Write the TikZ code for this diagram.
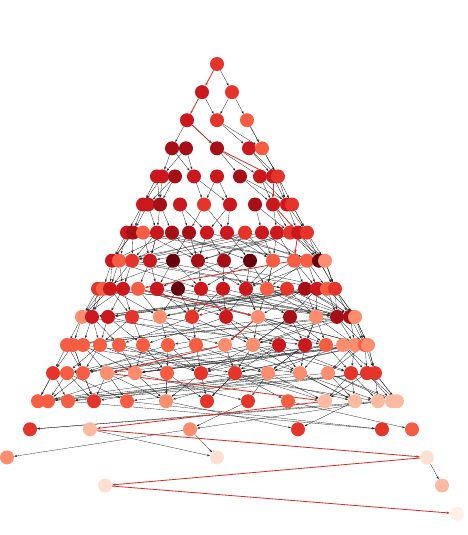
\documentclass[tikz,border=0pt]{standalone}
\usetikzlibrary{arrows.meta}
\definecolor{c1}{HTML}{67000D}
\definecolor{c2}{HTML}{A50F15}
\definecolor{c3}{HTML}{CB181D}
\definecolor{c4}{HTML}{E5352B}
\definecolor{c5}{HTML}{F65D43}
\definecolor{c6}{HTML}{FC8D6E}
\definecolor{c7}{HTML}{FCBBA1}
\definecolor{c8}{HTML}{FEE0D2}
\definecolor{c9}{HTML}{FFF0E8}
\definecolor{pathred}{HTML}{DC2A22}
\pgfdeclarelayer{edgelayer}
\pgfsetlayers{edgelayer,main}
\tikzset{
  dot/.style={circle,minimum size=14pt,inner sep=0pt,draw=none},
  edge/.style={draw=black!85,line width=0.3pt,-{Stealth[length=3pt,width=2pt]}},
  redge/.style={draw=pathred,line width=0.8pt,-{Stealth[length=3.5pt,width=2.5pt]}}
}
\def\rows{%
0/{217/c4},%
1/{202/c3,232/c4},%
2/{187/c3,217/c4,247/c5},%
3/{172/c2,186/c2,217/c2,249/c3,262/c5},%
4/{157/c3,162/c3,175/c2,194/c3,217/c3,240/c2,260/c3,273/c3,278/c4},%
5/{143/c3,148/c3,160/c2,180/c3,204/c4,230/c3,255/c2,273/c3,287/c3,292/c4},%
6/{127/c3,133/c2,143/c5,157/c3,172/c2,189/c2,207/c3,227/c3,245/c4,262/c3,277/c3,290/c4,298/c3,307/c4},%
7/{112/c3,119/c5,132/c4,150/c3,173/c1,198/c2,224/c2,250/c1,273/c5,294/c5,307/c5,319/c1,325/c6},%
8/{98/c4,103/c5,110/c3,123/c3,138/c5,157/c3,178/c1,201/c3,223/c3,246/c3,267/c5,287/c4,305/c2,317/c3,327/c5,335/c4},%
9/{82/c6,92/c3,108/c3,132/c4,160/c6,192/c4,226/c3,258/c6,290/c2,316/c6,337/c2,350/c2,355/c6},%
10/{67/c5,73/c5,83/c5,100/c5,119/c5,143/c5,168/c5,196/c5,225/c6,253/c6,279/c3,305/c3,326/c5,343/c6,355/c6,365/c5,368/c6},%
11/{53/c4,67/c5,83/c5,107/c6,135/c6,167/c5,201/c4,235/c4,268/c6,300/c6,328/c6,351/c4,367/c4,375/c4},%
12/{38/c5,48/c5,68/c5,94/c4,127/c5,166/c6,207/c4,248/c4,288/c5,325/c7,355/c7,378/c7,392/c7,397/c7},%
13/{30/c4,90/c7,190/c6,298/c4,382/c4,412/c5},%
14/{7/c6,217/c8,427/c8},%
15/{105/c8,442/c7},%
16/{457/c9}}
\def\cnt{{1,2,3,5,9,10,14,13,16,13,17,14,14,6,3,2,1}}
\begin{document}
\begin{tikzpicture}[x=1pt,y=-1pt]
\useasboundingbox (0,0) rectangle (467,535);
\foreach \r/\lst in \rows {
  \foreach \x/\c [count=\i] in \lst {
    \node[dot,fill=\c] (n\r-\i) at (\x,{64+28.1*\r}) {};
  }
}
\pgfmathsetseed{17}
\begin{pgfonlayer}{edgelayer}
\draw[edge] (n0-1) -- (n1-2);
\draw[edge] (n1-1) -- (n2-2);
\draw[edge] (n1-2) -- (n2-2);
\draw[edge] (n1-2) -- (n2-3);
\foreach \r in {2,...,11} {
  \pgfmathtruncatemacro\na{\cnt[\r]}
  \pgfmathtruncatemacro\rn{\r+1}
  \pgfmathtruncatemacro\nb{\cnt[\rn]}
  \foreach \i in {1,...,\na} {
    \pgfmathrandominteger{\da}{-1}{1}
    \pgfmathtruncatemacro\ja{max(1,min(\nb,round((\i-0.5)*\nb/\na+0.5)+\da))}
    \draw[edge] (n\r-\i) -- (n\rn-\ja);
    \pgfmathrandominteger{\db}{1}{2}
    \pgfmathtruncatemacro\jb{max(1,min(\nb,\ja+\db))}
    \draw[edge] (n\r-\i) -- (n\rn-\jb);
    \ifnum\r>5
      \pgfmathrandominteger{\jc}{1}{\nb}
      \draw[edge] (n\r-\i) -- (n\rn-\jc);
    \fi
  }
  \ifnum\r>7
    \pgfmathtruncatemacro\lo{round(\na*0.6)}
    \foreach \k in {1,...,10} {
      \pgfmathrandominteger{\s}{\lo}{\na}
      \pgfmathrandominteger{\t}{1}{\nb}
      \draw[edge] (n\r-\s) -- (n\rn-\t);
    }
  \fi
}
\draw[edge] (n12-13) -- (n13-1);
\draw[edge] (n12-12) -- (n13-1);
\draw[edge] (n12-12) -- (n13-3);
\draw[edge] (n12-8) -- (n13-3);
\draw[edge] (n12-6) -- (n13-4);
\draw[edge] (n12-11) -- (n13-4);
\draw[edge] (n12-3) -- (n13-5);
\draw[edge] (n12-5) -- (n13-5);
\draw[edge] (n12-9) -- (n13-6);
\draw[edge] (n13-3) -- (n14-1);
\draw[edge] (n13-2) -- (n14-2);
\draw[edge] (n13-3) -- (n14-2);
\draw[edge] (n14-3) -- (n15-2);
\draw[redge] (n0-1) -- (n1-1);
\draw[redge] (n1-1) -- (n2-1);
\draw[redge] (n2-1) -- (n3-3);
\draw[redge] (n3-3) -- (n4-8);
\draw[redge] (n4-8) -- (n5-8);
\draw[redge] (n5-8) -- (n6-13);
\draw[redge] (n6-13) -- (n7-10);
\draw[redge] (n7-10) -- (n8-5);
\draw[redge] (n8-5) -- (n9-8);
\draw[redge] (n9-8) -- (n10-9);
\draw[redge] (n10-9) -- (n11-4);
\draw[redge] (n11-4) -- (n12-10);
\draw[redge] (n12-10) -- (n13-2);
\draw[redge] (n13-2) -- (n14-3);
\draw[redge] (n14-3) -- (n15-1);
\draw[redge] (n15-1) -- (n16-1);
\end{pgfonlayer}
\end{tikzpicture}
\end{document}
